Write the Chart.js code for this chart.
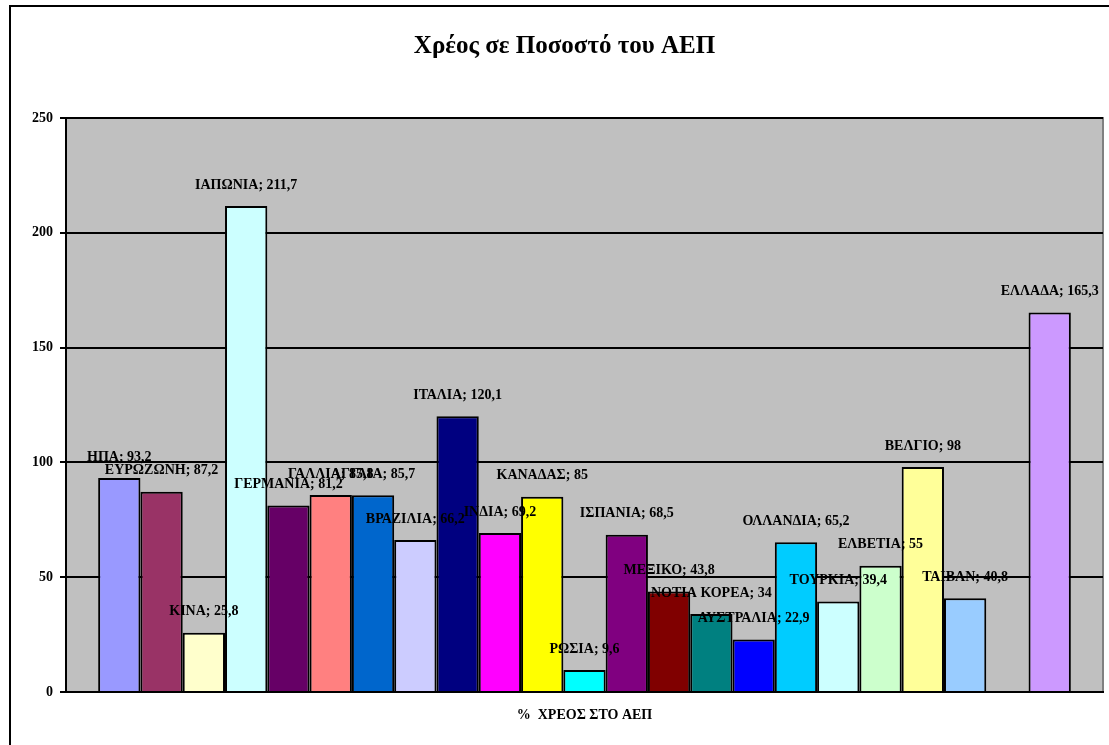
<!DOCTYPE html>
<html>
<head>
<meta charset="utf-8">
<script src="https://cdn.jsdelivr.net/npm/chart.js@4"></script>
<style>
  body { margin: 0; background: #fff; }
</style>
</head>
<body>
<canvas id="chart" width="1109" height="745"></canvas>
<script>
const category = ["%  ΧΡΕΟΣ ΣΤΟ ΑΕΠ"];
const countries = ["ΗΠΑ", "ΕΥΡΩΖΩΝΗ", "ΚΙΝΑ", "ΙΑΠΩΝΙΑ", "ΓΕΡΜΑΝΙΑ", "ΓΑΛΛΙΑ", "ΑΓΓΛΙΑ", "ΒΡΑΖΙΛΙΑ",
  "ΙΤΑΛΙΑ", "ΙΝΔΙΑ", "ΚΑΝΑΔΑΣ", "ΡΩΣΙΑ", "ΙΣΠΑΝΙΑ", "ΜΕΞΙΚΟ", "ΝΟΤΙΑ ΚΟΡΕΑ", "ΑΥΣΤΡΑΛΙΑ",
  "ΟΛΛΑΝΔΙΑ", "ΤΟΥΡΚΙΑ", "ΕΛΒΕΤΙΑ", "ΒΕΛΓΙΟ", "ΤΑΙΒΑΝ", "", "ΕΛΛΑΔΑ"];
const debt = [93.2, 87.2, 25.8, 211.7, 81.2, 85.8, 85.7, 66.2,
  120.1, 69.2, 85, 9.6, 68.5, 43.8, 34, 22.9,
  65.2, 39.4, 55, 98, 40.8, null, 165.3];
const colors = ["#9999FF", "#993366", "#FFFFCC", "#CCFFFF", "#660066", "#FF8080", "#0066CC", "#CCCCFF",
  "#000080", "#FF00FF", "#FFFF00", "#00FFFF", "#800080", "#800000", "#008080", "#0000FF",
  "#00CCFF", "#CCFFFF", "#CCFFCC", "#FFFF99", "#99CCFF", "#FFFFFF", "#CC99FF"];
const yTicks = [0, 50, 100, 150, 200, 250];

const serif = "'Liberation Serif', 'Times New Roman', serif";

const datasets = countries.map((name, i) => ({
  label: name,
  data: [debt[i]],
  backgroundColor: colors[i],
  borderColor: "#000",
  borderWidth: 2,
  borderSkipped: "bottom"
}));

// gray plot area + outer frame
const background = {
  id: "background",
  beforeDraw(chart) {
    const { ctx, chartArea: a } = chart;
    ctx.save();
    ctx.fillStyle = "#C0C0C0";
    ctx.fillRect(a.left, a.top, a.right - a.left, a.bottom - a.top);
    ctx.strokeStyle = "#808080";
    ctx.lineWidth = 2;
    ctx.beginPath();
    ctx.moveTo(a.left, a.top);
    ctx.lineTo(a.right, a.top);
    ctx.lineTo(a.right, a.bottom);
    ctx.stroke();
    ctx.strokeStyle = "#000";
    ctx.lineWidth = 2;
    ctx.strokeRect(10, 6, 1120, 760);
    ctx.restore();
  }
};

// "ΧΩΡΑ; τιμή" labels above each bar
const barLabels = {
  id: "barLabels",
  afterDatasetsDraw(chart) {
    const ctx = chart.ctx;
    ctx.save();
    ctx.font = "bold 14px " + serif;
    ctx.fillStyle = "#000";
    ctx.textAlign = "center";
    ctx.textBaseline = "middle";
    chart.data.datasets.forEach((ds, i) => {
      const v = ds.data[0];
      if (v === null) return;
      const bar = chart.getDatasetMeta(i).data[0];
      const txt = ds.label + "; " + String(v).replace(".", ",");
      ctx.fillText(txt, bar.x, bar.y - 21);
    });
    ctx.restore();
  }
};

new Chart(document.getElementById("chart"), {
  type: "bar",
  data: { labels: category, datasets: datasets },
  options: {
    responsive: false,
    animation: false,
    layout: { padding: { left: 26, right: 6, top: 0, bottom: 0 } },
    datasets: { bar: { categoryPercentage: 0.938, barPercentage: 1 } },
    plugins: {
      legend: { display: false },
      tooltip: { enabled: false },
      title: {
        display: true,
        text: "Χρέος σε Ποσοστό του ΑΕΠ",
        color: "#000",
        font: { family: serif, size: 25, weight: "bold", lineHeight: 1.2 },
        padding: { top: 32, bottom: 56 }
      }
    },
    scales: {
      x: {
        grid: { display: false, drawTicks: false },
        border: { color: "#000", width: 2 },
        ticks: { color: "#000", font: { family: serif, size: 14, weight: "bold" }, padding: 15 },
        afterFit(s) { s.height = 53; }
      },
      y: {
        min: 0,
        max: 250,
        afterBuildTicks(s) { s.ticks = yTicks.map(v => ({ value: v })); },
        grid: { color: "#000", lineWidth: 2, tickLength: 6 },
        border: { color: "#000", width: 2 },
        ticks: { color: "#000", font: { family: serif, size: 14, weight: "bold" }, padding: 7 },
        afterFit(s) { s.width = 40; }
      }
    }
  },
  plugins: [background, barLabels]
});
</script>
</body>
</html>
